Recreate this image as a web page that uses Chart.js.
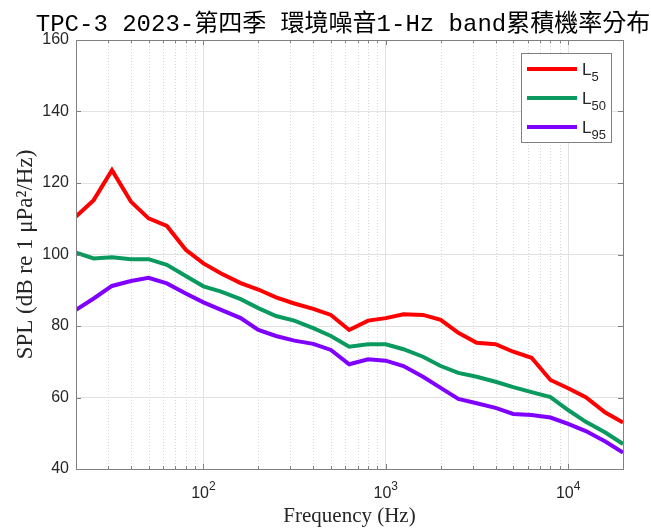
<!DOCTYPE html>
<html>
<head>
<meta charset="utf-8">
<script src="https://cdn.jsdelivr.net/npm/chart.js@4/dist/chart.umd.min.js"></script>
<style>
  html,body{margin:0;padding:0;background:#fff;}
  #wrap{width:651px;height:530px;position:relative;}
</style>
</head>
<body>
<div id="wrap"><canvas id="c"></canvas></div>
<script>
// 1/3 倍頻帶中心頻率 (Hz)
const freq=[20,25,31.5,40,50,63,80,100,125,160,200,250,315,400,500,630,800,1000,
  1250,1600,2000,2500,3150,4000,5000,6300,8000,10000,12500,16000,20000];
const L5=[110.6,115.2,123.6,114.8,110.1,108.0,101.3,97.5,94.7,92.0,90.2,88.0,86.3,84.8,83.1,78.9,
  81.5,82.2,83.3,83.1,81.7,78.1,75.3,74.9,72.8,71.1,64.9,62.6,60.1,55.8,53.0];
const L50=[100.5,98.9,99.2,98.7,98.7,97.1,94.0,91.1,89.6,87.5,85.0,82.8,81.5,79.4,77.2,74.2,
  74.9,74.9,73.5,71.4,68.8,66.9,65.8,64.4,62.9,61.5,60.1,56.5,53.2,50.2,47.0];
const L95=[84.5,87.7,91.2,92.6,93.5,91.9,89.1,86.6,84.5,82.2,78.9,77.2,75.9,75.0,73.3,69.3,
  70.7,70.3,68.8,65.8,62.7,59.6,58.4,57.1,55.4,55.1,54.4,52.6,50.6,47.7,44.6];

const xTicks=[20,30,40,50,60,70,80,90,100,200,300,400,500,600,700,800,900,1000,
  2000,3000,4000,5000,6000,7000,8000,9000,10000,20000];
const decades=[100,1000,10000];
const decadeExp=['2','3','4'];
const yTicks=[40,60,80,100,120,140,160];

const TITLE='TPC-3 2023-第四季 環境噪音1-Hz band累積機率分布';
const SERIES=[
  {name:'L',sub:'5',data:L5,col:'#ff0000'},
  {name:'L',sub:'50',data:L50,col:'#0a9a5f'},
  {name:'L',sub:'95',data:L95,col:'#8000ff'},
];
const AX='#808080', TXT='#262626';
const SANS="'Liberation Sans', Arial, sans-serif";

const isDec=v=>decades.includes(v);

// 邊框、刻度、點狀次格線、10^n 標籤、圖例、標題
const deco={
  id:'deco',
  beforeDatasetsDraw(c){
    const {ctx,chartArea:a,scales:{x}}=c;
    ctx.save();
    ctx.strokeStyle='#d6d6d6'; ctx.lineWidth=1; ctx.setLineDash([1,2]);
    xTicks.forEach((v,i)=>{
      if(isDec(v)||i===0||i===xTicks.length-1) return;
      const px=Math.round(x.getPixelForValue(v))+0.5;
      ctx.beginPath(); ctx.moveTo(px,a.top); ctx.lineTo(px,a.bottom); ctx.stroke();
    });
    ctx.restore();
  },
  afterDraw(c){
    const {ctx,chartArea:a,scales:{x,y}}=c;
    ctx.save();
    ctx.strokeStyle=AX; ctx.lineWidth=1;
    ctx.strokeRect(Math.round(a.left)+0.5,Math.round(a.top)+0.5,
      Math.round(a.right-a.left),Math.round(a.bottom-a.top));
    // 向內刻度
    ctx.beginPath();
    xTicks.forEach(v=>{
      const px=Math.round(x.getPixelForValue(v))+0.5, len=isDec(v)?5:3;
      ctx.moveTo(px,a.bottom); ctx.lineTo(px,a.bottom-len);
      ctx.moveTo(px,a.top); ctx.lineTo(px,a.top+len);
    });
    yTicks.forEach(v=>{
      const py=Math.round(y.getPixelForValue(v))+0.5;
      ctx.moveTo(a.left,py); ctx.lineTo(a.left+5,py);
      ctx.moveTo(a.right,py); ctx.lineTo(a.right-5,py);
    });
    ctx.stroke();

    // x 軸 10^n 標籤（上標）
    ctx.fillStyle=TXT; ctx.textAlign='left'; ctx.textBaseline='alphabetic';
    decades.forEach((v,i)=>{
      const px=x.getPixelForValue(v);
      ctx.font='16px '+SANS; const w1=ctx.measureText('10').width;
      ctx.font='12px '+SANS; const w2=ctx.measureText(decadeExp[i]).width;
      const x0=px-(w1+w2)/2;
      ctx.font='16px '+SANS; ctx.fillText('10',x0,498);
      ctx.font='12px '+SANS; ctx.fillText(decadeExp[i],x0+w1,490);
    });

    // 圖例
    const bx=521.5,by=53.5,bw=90,bh=89;
    ctx.fillStyle='#fff'; ctx.fillRect(bx,by,bw,bh);
    ctx.strokeStyle=AX; ctx.lineWidth=1; ctx.strokeRect(bx,by,bw,bh);
    SERIES.forEach((s,i)=>{
      const ly=69+i*29;
      ctx.strokeStyle=s.col; ctx.lineWidth=4;
      ctx.beginPath(); ctx.moveTo(527,ly); ctx.lineTo(577,ly); ctx.stroke();
      ctx.fillStyle=TXT;
      ctx.font='17px '+SANS;
      ctx.fillText(s.name,582,ly+6);
      const w=ctx.measureText(s.name).width;
      ctx.font='13px '+SANS;
      ctx.fillText(s.sub,582+w,ly+12);
    });

    // 標題
    ctx.fillStyle='#000'; ctx.textAlign='center'; ctx.textBaseline='middle';
    ctx.font="24px 'Liberation Mono','Noto Sans CJK TC',monospace";
    ctx.fillText(TITLE,343,25);
    ctx.restore();
  }
};

const chart=new Chart(document.getElementById('c'),{
  type:'line',
  data:{datasets:SERIES.map(s=>({
    label:s.name+s.sub,
    data:freq.map((f,i)=>({x:f,y:s.data[i]})),
    borderColor:s.col,backgroundColor:s.col,
    borderWidth:4,pointRadius:0,tension:0,fill:false
  }))},
  options:{
    responsive:true,maintainAspectRatio:false,animation:false,
    layout:{padding:{top:40,right:28,left:0,bottom:0}},
    plugins:{legend:{display:false},title:{display:false},tooltip:{enabled:false}},
    scales:{
      x:{
        type:'logarithmic',min:20,max:20000,
        afterBuildTicks:s=>{ s.ticks=xTicks.map(v=>({value:v,major:isDec(v)})); },
        afterFit:s=>{ s.height=61; },
        ticks:{autoSkip:false,maxRotation:0,padding:14,callback:()=>''},
        grid:{drawTicks:false,color:g=>isDec(g.tick&&g.tick.value)?'#e2e2e2':'rgba(0,0,0,0)'},
        border:{display:false},
        title:{display:true,text:'Frequency (Hz)',color:TXT,padding:{top:0,bottom:1},
          font:{family:"'Liberation Serif','Times New Roman',serif",size:21}}
      },
      y:{
        min:40,max:160,
        afterBuildTicks:s=>{ s.ticks=yTicks.map(v=>({value:v})); },
        afterFit:s=>{ s.width=76; },
        ticks:{padding:7,color:TXT,font:{family:SANS,size:16}},
        grid:{drawTicks:false,color:'#e2e2e2'},
        border:{display:false},
        title:{display:true,text:'SPL (dB re 1 μPa²/Hz)',color:TXT,padding:{top:12,bottom:0},
          font:{family:"'Liberation Serif','Times New Roman',serif",size:23}}
      }
    }
  },
  plugins:[deco]
});
</script>
</body>
</html>
